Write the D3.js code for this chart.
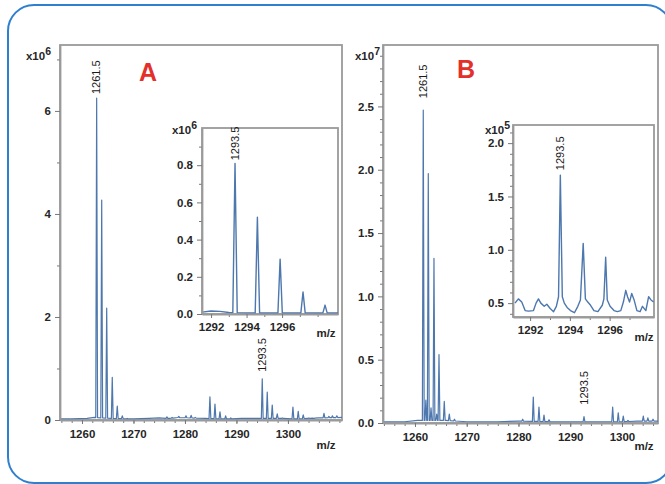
<!DOCTYPE html>
<html><head><meta charset="utf-8">
<script src="https://cdn.jsdelivr.net/npm/d3@7"></script>
<style>
body{margin:0;background:#fff}
text{font-family:"Liberation Sans",Arial,Helvetica,sans-serif}
</style>
</head><body>
<svg id="c" width="665" height="484"></svg>
<script>
// ---------------- DATA ----------------
// Panel A, main spectrum (m/z, intensity x10^6)
const aPeakMz  = [1262.85,1263.83,1264.80,1265.88,1266.85,1267.83,1268.8,
                  1276.5,1277.5,1278.8,1280.2,1281.2,1282.0,
                  1284.85,1285.83,1286.80,1287.90,1288.9,
                  1295.01,1295.98,1296.95,1297.92,1298.89,
                  1300.97,1302.0,1302.97,1304.08,1305.05,
                  1307.0,1307.96,1308.64,1309.5];
const aPeakInt = [6.25,4.27,2.17,0.83,0.27,0.08,0.03,
                  0.06,0.05,0.07,0.08,0.09,0.05,
                  0.45,0.31,0.16,0.08,0.04,
                  0.80,0.54,0.29,0.12,0.04,
                  0.25,0.17,0.10,0.04,0.03,
                  0.13,0.07,0.08,0.08];
const aBaseMz  = [1255.7,1258,1261,1262.4,1266,1270,1273,1275,1277,1279,1281,1284,1288,1291,1294,1299,1302,1306,1310.5];
const aBaseInt = [0.02,0.02,0.03,0.05,0.03,0.02,0.03,0.04,0.03,0.05,0.04,0.03,0.02,0.03,0.03,0.03,0.02,0.04,0.05];
const aXTicks = [1260,1270,1280,1290,1300];
const aYTicks = [0,2,4,6];

// Panel A, inset (intensity x10^6)
const aiPeakMz  = [1293.35,1294.61,1295.89,1297.18,1298.42];
const aiPeakInt = [0.81,0.52,0.295,0.118,0.048];
const aiBaseMz  = [1291.5,1292.0,1292.5,1293.0,1294.0,1295.2,1296.5,1297.8,1299.2];
const aiBaseInt = [0.010,0.016,0.014,0.008,0.006,0.005,0.005,0.005,0.005];
const aiXTicks = [1292,1294,1296];
const aiYTicks = [0.0,0.2,0.4,0.6,0.8];

// Panel B, main spectrum (intensity x10^7)
const bPeakMz  = [1261.60,1262.1,1262.57,1263.1,1263.67,1264.2,1264.64,1265.66,1266.63,1267.63,
                  1280.81,1282.86,1283.96,1284.93,1285.9,
                  1292.66,
                  1298.2,1299.28,1300.25,1301.16,
                  1304.12,1305.0,1306.0];
const bPeakInt = [2.47,0.18,1.97,0.12,1.30,0.07,0.54,0.17,0.07,0.03,
                  0.03,0.205,0.126,0.063,0.025,
                  0.05,
                  0.126,0.08,0.055,0.02,
                  0.055,0.04,0.03];
const bBaseMz  = [1253.8,1258,1260.5,1266,1270,1276,1280,1287,1292,1296,1300,1303,1307];
const bBaseInt = [0.01,0.01,0.02,0.02,0.01,0.01,0.015,0.01,0.01,0.01,0.01,0.015,0.015];
const bXTicks = [1260,1270,1280,1290,1300];
const bYTicks = [0.0,0.5,1.0,1.5,2.0,2.5];

// Panel B, inset trace (intensity x10^5)
const biMz  = [1291.24,1291.41,1291.58,1291.75,1291.92,1292.17,1292.30,1292.42,1292.54,1292.71,1292.84,1293.01,1293.18,1293.32,1293.43,1293.52,1293.62,1293.72,1293.86,1294.03,1294.23,1294.40,1294.53,1294.67,1294.78,1294.90,1295.04,1295.21,1295.41,1295.63,1295.71,1295.80,1295.88,1296.02,1296.22,1296.39,1296.56,1296.69,1296.81,1296.90,1297.00,1297.11,1297.23,1297.37,1297.53,1297.65,1297.82,1297.96,1298.08,1298.21];
const biInt = [0.50,0.54,0.51,0.43,0.425,0.43,0.50,0.54,0.50,0.47,0.49,0.45,0.42,0.47,0.56,1.70,0.56,0.50,0.46,0.43,0.41,0.47,0.53,1.06,0.54,0.51,0.48,0.43,0.42,0.48,0.54,0.93,0.53,0.47,0.43,0.42,0.43,0.51,0.62,0.56,0.51,0.59,0.53,0.43,0.42,0.47,0.43,0.56,0.53,0.51];
const biXTicks = [1292,1294,1296];
const biYTicks = [0.5,1.0,1.5,2.0];

// Annotation labels
const annotA  = {text:"1261.5", mz:1262.85, v:6.25};
const annotA2 = {text:"1293.5", mz:1295.01, v:0.80};
const annotAi = {text:"1293.5", mz:1293.35, v:0.81};
const annotB  = {text:"1261.5", mz:1261.60, v:2.47};
const annotB2 = {text:"1293.5", mz:1292.66, v:0.05};
const annotBi = {text:"1293.5", mz:1293.52, v:1.70};

// ---------------- DRAWING ----------------
const svg = d3.select("#c");
const LINE = "#4d77ad", FRAME = "#9a9a9a", TXT = "#262626";

svg.append("rect").attr("x",8).attr("y",5).attr("width",664).attr("height",478)
  .attr("rx",26).attr("fill","none").attr("stroke","#2f7fcf").attr("stroke-width",2);

function range(a,b,s){const r=[];for(let v=a;v<=b+1e-9;v+=s)r.push(+v.toFixed(4));return r;}

function panel(o){
  const g = svg.append("g");
  const x = d3.scaleLinear().domain(o.xd).range([o.x0,o.x1]);
  const y = d3.scaleLinear().domain(o.yd).range([o.y1,o.y0]);
  const id = "clip"+Math.round(o.x0)+"_"+Math.round(o.y0);
  svg.append("clipPath").attr("id",id).append("rect")
    .attr("x",o.x0).attr("y",o.y0).attr("width",o.x1-o.x0).attr("height",o.y1-o.y0);
  g.append("rect").attr("x",o.x0).attr("y",o.y0).attr("width",o.x1-o.x0).attr("height",o.y1-o.y0)
    .attr("fill","#fff").attr("stroke",FRAME).attr("stroke-width",1.8);
  // trace
  let pts;
  if(o.trace){ pts = o.trace.mz.map((m,i)=>[x(m),y(o.trace.v[i])]); }
  else {
    const bx = o.base.mz, bv = o.base.v;
    const interp = m=>{ for(let i=0;i<bx.length-1;i++){ if(m>=bx[i]&&m<=bx[i+1]){const t=(m-bx[i])/(bx[i+1]-bx[i]);return bv[i]+t*(bv[i+1]-bv[i]);}} return bv[bv.length-1]; };
    const px = o.peaks.mz.map(m=>x(m));
    pts = bx.map((m,i)=>[x(m),y(bv[i])]).filter(p=>px.every(q=>Math.abs(q-p[0])>o.hw+0.5));
    o.peaks.mz.forEach((m,i)=>{
      const b=y(interp(m)), X=x(m);
      pts.push([X-o.hw,b],[X,y(o.peaks.v[i])],[X+o.hw,b]);
    });
    pts.sort((a,b)=>a[0]-b[0]);
  }
  g.append("path").attr("clip-path","url(#"+id+")").attr("d",d3.line()(pts))
    .attr("fill","none").attr("stroke",LINE).attr("stroke-width",o.sw||1.2).attr("stroke-linejoin","round");
  // axes
  const style = sel=>{ sel.select(".domain").attr("stroke",FRAME).attr("stroke-width",1.8);
    sel.selectAll(".tick line").attr("stroke","#777");
    sel.selectAll("text").attr("fill",TXT).attr("font-size",o.fs||11).attr("font-weight","bold").attr("font-family","'Liberation Sans',Arial,sans-serif"); };
  g.append("g").attr("transform",`translate(0,${o.y1})`)
    .call(d3.axisBottom(x).tickValues(o.xMinor).tickSize(3).tickFormat(""))
    .call(s=>{s.select(".domain").remove();s.selectAll("line").attr("stroke","#777");});
  g.append("g").attr("transform",`translate(0,${o.y1})`)
    .call(d3.axisBottom(x).tickValues(o.xt).tickSize(4).tickPadding(o.xpad||6).tickSizeOuter(0).tickFormat(d3.format("d")))
    .call(style);
  g.append("g").attr("transform",`translate(${o.x0},0)`)
    .call(d3.axisLeft(y).tickValues(o.yMinor).tickSize(3).tickFormat(""))
    .call(s=>{s.select(".domain").remove();s.selectAll("line").attr("stroke","#777");});
  g.append("g").attr("transform",`translate(${o.x0},0)`)
    .call(d3.axisLeft(y).tickValues(o.yt).tickSize(5).tickPadding(4).tickSizeOuter(0).tickFormat(d3.format(o.yf)))
    .call(style);
  // exponent
  const t = g.append("text").attr("x",o.ex[0]).attr("y",o.ex[1]).attr("text-anchor","end")
    .attr("font-size",o.fs||11).attr("font-weight","bold").attr("fill",TXT).text("x10");
  t.append("tspan").attr("dy",-5).attr("font-size",(o.fs||11)-1).text(o.exp);
  // m/z
  g.append("text").attr("x",o.mzl[0]).attr("y",o.mzl[1]).attr("text-anchor","middle")
    .attr("font-size",o.fs||11).attr("font-weight","bold").attr("fill",TXT).text("m/z");
  // annotations
  (o.ann||[]).forEach(a=>{
    const X=x(a.mz), Y=y(a.v)-a.gap;
    g.append("text").attr("transform",`translate(${X+3.8},${Y}) rotate(-90)`)
      .attr("font-size",11).attr("fill","#1a1a1a").text(a.text);
  });
  return {x,y};
}

// Panel A main
panel({x0:60,x1:342,y0:45,y1:420,xd:[1255.73,1310.5],yd:[0,7.28],
  xt:aXTicks,xMinor:range(1256,1310,2),yt:aYTicks,yMinor:[1,3,5,7],yf:"d",
  base:{mz:aBaseMz,v:aBaseInt},peaks:{mz:aPeakMz,v:aPeakInt},hw:0.9,
  ex:[51,60],exp:"6",mzl:[326,449],fs:11.5,
  ann:[{...annotA,gap:4},{...annotA2,gap:7}]});
// Panel A inset
panel({x0:202,x1:338,y0:128,y1:314,xd:[1291.49,1299.15],yd:[0,1.0],
  xt:aiXTicks,xMinor:[1293,1295,1297,1298],yt:aiYTicks,yMinor:[0.1,0.3,0.5,0.7,0.9],yf:".1f",
  base:{mz:aiBaseMz,v:aiBaseInt},peaks:{mz:aiPeakMz,v:aiPeakInt},hw:2.2,sw:1.4,xpad:5,
  ex:[197,134],exp:"6",mzl:[326,337],fs:11.5,
  ann:[{...annotAi,gap:3}]});
// Panel B main
panel({x0:383,x1:658,y0:45,y1:423,xd:[1253.82,1306.96],yd:[0,2.985],
  xt:bXTicks,xMinor:range(1254,1306,2),yt:bYTicks,yMinor:range(0.1,2.9,0.1).filter(v=>Math.abs(v*2-Math.round(v*2))>1e-6),yf:".1f",
  base:{mz:bBaseMz,v:bBaseInt},peaks:{mz:bPeakMz,v:bPeakInt},hw:0.9,
  ex:[380,60],exp:"7",mzl:[644,450],fs:11.5,
  ann:[{...annotB,gap:12},{...annotB2,gap:12}]});
// Panel B inset
panel({x0:513,x1:654,y0:125,y1:317,xd:[1291.14,1298.23],yd:[0.37,2.17],
  xt:biXTicks,xMinor:[1293,1295,1297],yt:biYTicks,yMinor:[0.4,0.6,0.7,0.8,0.9,1.1,1.2,1.3,1.4,1.6,1.7,1.8,1.9,2.1],yf:".1f",
  trace:{mz:biMz,v:biInt},sw:1.4,xpad:5,
  ex:[510,134],exp:"5",mzl:[644,341],fs:11.5,
  ann:[{...annotBi,gap:5}]});

// Panel letters
svg.append("text").attr("x",148).attr("y",81).attr("text-anchor","middle").attr("font-size",25)
  .attr("font-weight","bold").attr("fill","#e3302b").text("A");
svg.append("text").attr("x",466).attr("y",78).attr("text-anchor","middle").attr("font-size",25)
  .attr("font-weight","bold").attr("fill","#e3302b").text("B");
</script>
</body></html>
